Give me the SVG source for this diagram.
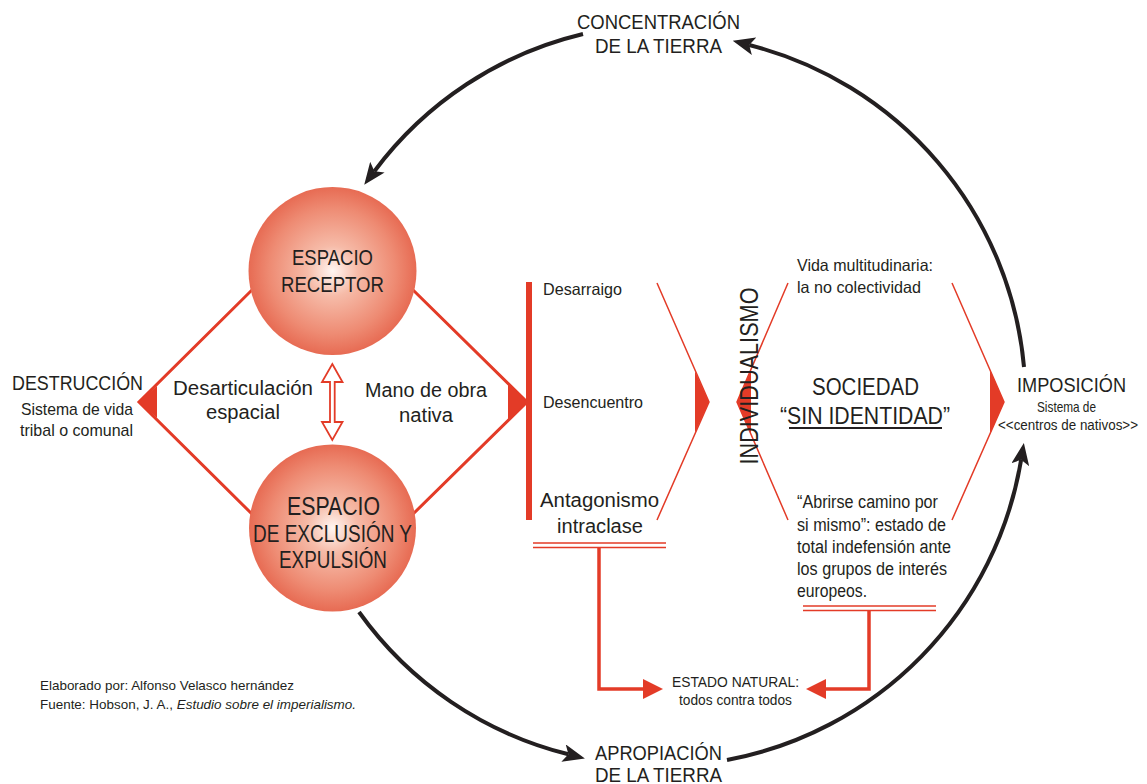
<svg xmlns="http://www.w3.org/2000/svg" width="1147" height="784" viewBox="0 0 1147 784">
<style>
.t{font-family:"Liberation Sans Narrow","Liberation Sans",Arial,sans-serif;fill:#231f20}
.m{text-anchor:middle}
.red{stroke:#e33b27;fill:none}
.redf{fill:#e33b27;stroke:none}
.arc{stroke:#231f20;stroke-width:4;fill:none;marker-end:url(#ah)}
</style>
<defs>
<radialGradient id="g" cx="50%" cy="50%" r="50%" fx="50%" fy="50%">
<stop offset="0" stop-color="#fff6f2"/>
<stop offset="0.3" stop-color="#f6bba8"/>
<stop offset="0.75" stop-color="#ee8b73"/>
<stop offset="1" stop-color="#e76b53"/>
</radialGradient>
<marker id="ah" viewBox="0 0 22 18" markerWidth="22" markerHeight="18" refX="5" refY="9" orient="auto" markerUnits="userSpaceOnUse">
<path d="M0,0 L22,9 L0,18 L5,9 Z" fill="#231f20"/>
</marker>
</defs>
<rect width="1147" height="784" fill="#ffffff"/>

<g id="connectors">
<path class="arc" d="M583,34 A366,366 0 0 0 374.4,171.2"/>
<path class="arc" d="M1024,367 A366,366 0 0 0 749.2,45"/>
<path class="arc" d="M359,612 A366,366 0 0 0 568.4,754.3"/>
<path class="arc" d="M727,760 A366,366 0 0 0 1021.1,459.8"/>
<g class="red" stroke-width="3">
<path d="M255,287 L139,402 L255,517"/>
<path d="M410,287 L527,402 L410,517"/>
</g>
<polygon class="redf" points="139,402 157,386 157,418"/>
<polygon class="redf" points="527,402 508,384 508,420"/>
<rect class="redf" x="526" y="282" width="6" height="238"/>
<g class="red" stroke-width="1.5">
<polyline points="657,283 709,402 657,520"/>
<polyline points="788,283 737,402 788,520"/>
<polyline points="952,283 1004,402 952,520"/>
</g>
<polygon class="redf" points="695,371 709,402 695,433"/>
<polygon class="redf" points="737,402 751,370 751,434"/>
<polygon class="redf" points="990,370 1004,402 990,434"/>
<path d="M332.3,364 L342.5,382 L334.7,382 L334.7,422 L342.5,422 L332.3,440 L322,422 L330,422 L330,382 L322,382 Z" fill="#ffffff" stroke="#e33b27" stroke-width="1.8" stroke-linejoin="miter"/>
<g class="red" stroke-width="1.7">
<line x1="533" y1="543" x2="666" y2="543"/>
<line x1="533" y1="547.5" x2="666" y2="547.5"/>
<line x1="803" y1="606" x2="936" y2="606"/>
<line x1="803" y1="610.5" x2="936" y2="610.5"/>
</g>
<g class="red" stroke-width="3.5">
<polyline points="599,548 599,689 645,689"/>
<polyline points="869,611 869,689 824,689"/>
</g>
<polygon class="redf" points="643,679 663,689 643,699"/>
<polygon class="redf" points="826,679 806,689 826,699"/>
</g>

<g id="node-receptor">
<circle cx="332.5" cy="271" r="84" fill="url(#g)"/>
<text class="t m" x="332.5" y="265" font-size="22.5" textLength="81" lengthAdjust="spacingAndGlyphs">ESPACIO</text>
<text class="t m" x="332.5" y="292" font-size="22.5" textLength="103" lengthAdjust="spacingAndGlyphs">RECEPTOR</text>
</g>

<g id="node-exclusion">
<circle cx="332.5" cy="528" r="83.5" fill="url(#g)"/>
<text class="t m" x="333.5" y="515" font-size="26" textLength="93" lengthAdjust="spacingAndGlyphs">ESPACIO</text>
<text class="t m" x="332.5" y="542" font-size="23" textLength="159" lengthAdjust="spacingAndGlyphs">DE EXCLUSIÓN Y</text>
<text class="t m" x="333" y="568" font-size="23" textLength="108" lengthAdjust="spacingAndGlyphs">EXPULSIÓN</text>
</g>

<g id="label-desarticulacion">
<text class="t m" x="243" y="395" font-size="20" textLength="140" lengthAdjust="spacingAndGlyphs">Desarticulación</text>
<text class="t m" x="243" y="419" font-size="20" textLength="74" lengthAdjust="spacingAndGlyphs">espacial</text>
</g>

<g id="label-mano">
<text class="t m" x="426" y="397" font-size="20" textLength="122" lengthAdjust="spacingAndGlyphs">Mano de obra</text>
<text class="t m" x="426" y="422" font-size="20" textLength="54" lengthAdjust="spacingAndGlyphs">nativa</text>
</g>

<g id="node-destruccion">
<text class="t m" x="77.5" y="390" font-size="20" textLength="131" lengthAdjust="spacingAndGlyphs">DESTRUCCIÓN</text>
<text class="t m" x="77" y="415" font-size="17" textLength="112" lengthAdjust="spacingAndGlyphs">Sistema de vida</text>
<text class="t m" x="76.5" y="436" font-size="17" textLength="113" lengthAdjust="spacingAndGlyphs">tribal o comunal</text>
</g>

<g id="node-concentracion">
<text class="t m" x="658.5" y="29" font-size="20.5" textLength="163" lengthAdjust="spacingAndGlyphs">CONCENTRACIÓN</text>
<text class="t m" x="658.5" y="53" font-size="20.5" textLength="127" lengthAdjust="spacingAndGlyphs">DE LA TIERRA</text>
</g>

<g id="node-apropiacion">
<text class="t m" x="658.5" y="760" font-size="20.5" textLength="127" lengthAdjust="spacingAndGlyphs">APROPIACIÓN</text>
<text class="t m" x="658.5" y="782" font-size="20.5" textLength="127" lengthAdjust="spacingAndGlyphs">DE LA TIERRA</text>
</g>

<g id="node-efectos">
<text class="t" x="543" y="295" font-size="16.5" textLength="79" lengthAdjust="spacingAndGlyphs">Desarraigo</text>
<text class="t" x="543" y="408" font-size="16.5" textLength="100" lengthAdjust="spacingAndGlyphs">Desencuentro</text>
<text class="t m" x="599.5" y="507" font-size="19.5" textLength="119" lengthAdjust="spacingAndGlyphs">Antagonismo</text>
<text class="t m" x="600" y="533" font-size="19.5" textLength="86" lengthAdjust="spacingAndGlyphs">intraclase</text>
</g>

<g id="node-individualismo">
<text class="t m" x="758" y="376" font-size="26" transform="rotate(-90 758 376)" textLength="177" lengthAdjust="spacingAndGlyphs">INDIVIDUALISMO</text>
</g>

<g id="node-sociedad">
<text class="t" x="797" y="271" font-size="16.5" textLength="136" lengthAdjust="spacingAndGlyphs">Vida multitudinaria:</text>
<text class="t" x="797" y="293" font-size="16.5" textLength="124" lengthAdjust="spacingAndGlyphs">la no colectividad</text>
<text class="t m" x="865.5" y="395" font-size="23" textLength="107" lengthAdjust="spacingAndGlyphs">SOCIEDAD</text>
<text class="t m" x="865" y="424" font-size="23" textLength="170" lengthAdjust="spacingAndGlyphs">“SIN IDENTIDAD”</text>
<line x1="789" y1="428" x2="942" y2="428" stroke="#231f20" stroke-width="2"/>
<text class="t" x="797" y="508" font-size="18" textLength="141" lengthAdjust="spacingAndGlyphs">“Abrirse camino por</text>
<text class="t" x="797" y="531" font-size="18" textLength="149" lengthAdjust="spacingAndGlyphs">si mismo”: estado de</text>
<text class="t" x="797" y="553" font-size="18" textLength="154" lengthAdjust="spacingAndGlyphs">total indefensión ante</text>
<text class="t" x="797" y="575" font-size="18" textLength="150" lengthAdjust="spacingAndGlyphs">los grupos de interés</text>
<text class="t" x="797" y="597" font-size="18" textLength="70" lengthAdjust="spacingAndGlyphs">europeos.</text>
</g>

<g id="node-imposicion">
<text class="t m" x="1071.5" y="392" font-size="20" textLength="109" lengthAdjust="spacingAndGlyphs">IMPOSICIÓN</text>
<text class="t m" x="1066.5" y="412" font-size="14.5" textLength="59" lengthAdjust="spacingAndGlyphs">Sistema de</text>
<text class="t m" x="1068" y="430" font-size="14" textLength="140" lengthAdjust="spacingAndGlyphs">&lt;&lt;centros de nativos&gt;&gt;</text>
</g>

<g id="node-estado">
<text class="t m" x="735.5" y="687" font-size="14.5" textLength="127" lengthAdjust="spacingAndGlyphs">ESTADO NATURAL:</text>
<text class="t m" x="735.5" y="705" font-size="14.5" textLength="113" lengthAdjust="spacingAndGlyphs">todos contra todos</text>
</g>

<g id="credits">
<text class="t" x="40" y="690" font-size="13" textLength="254" lengthAdjust="spacingAndGlyphs">Elaborado por: Alfonso Velasco hernández</text>
<text class="t" x="40" y="709" font-size="13" textLength="316" lengthAdjust="spacingAndGlyphs">Fuente: Hobson, J. A., <tspan font-style="italic">Estudio sobre el imperialismo.</tspan></text>
</g>
</svg>
